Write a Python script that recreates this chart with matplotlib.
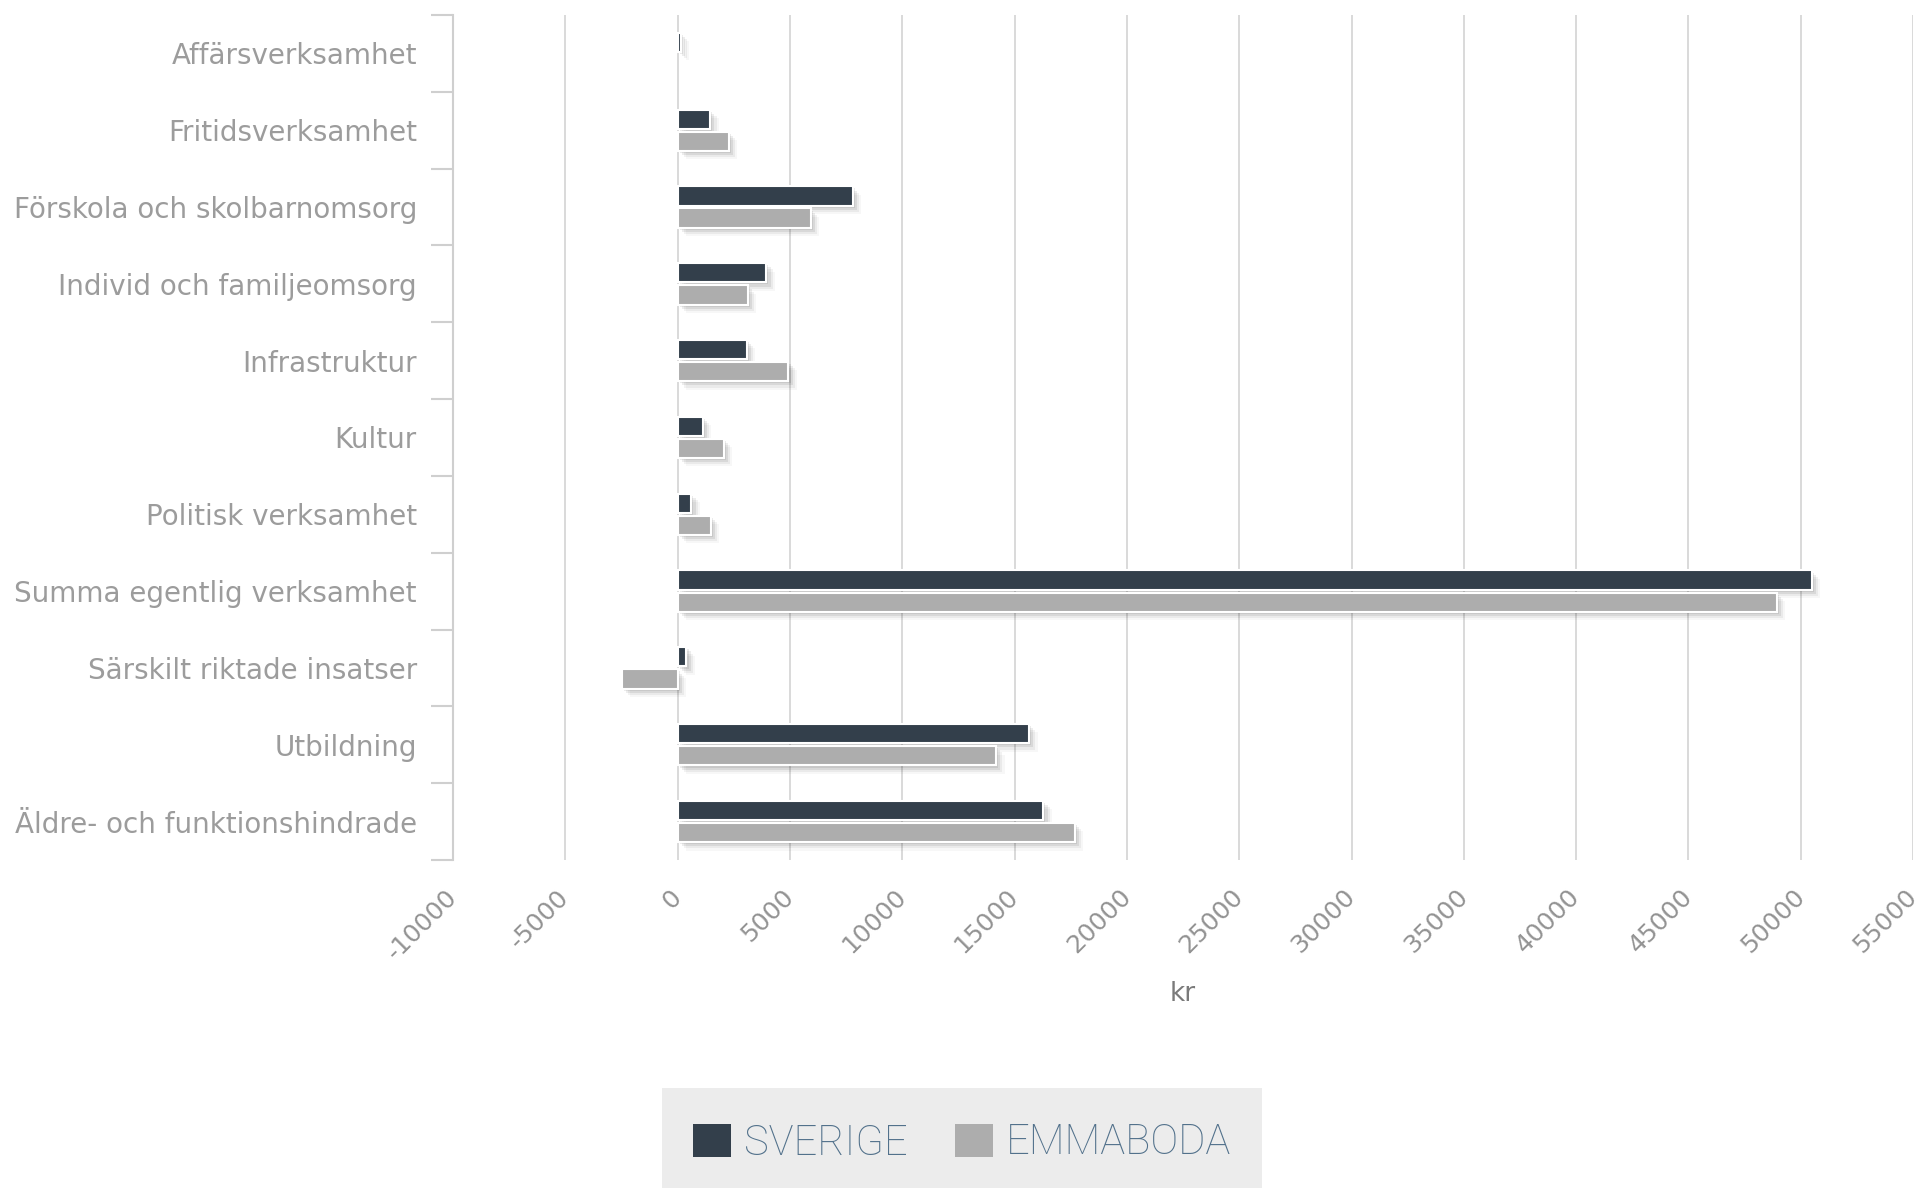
import matplotlib
matplotlib.use("Agg")
import matplotlib.pyplot as plt
import matplotlib.patheffects as pe
from matplotlib.patches import Patch, Rectangle
import numpy as np

# categories and values (kr per invånare)
categories = [
    "Affärsverksamhet",
    "Fritidsverksamhet",
    "Förskola och skolbarnomsorg",
    "Individ och familjeomsorg",
    "Infrastruktur",
    "Kultur",
    "Politisk verksamhet",
    "Summa egentlig verksamhet",
    "Särskilt riktade insatser",
    "Utbildning",
    "Äldre- och funktionshindrade",
]
sverige = [150, 1450, 7800, 3950, 3080, 1130, 610, 50500, 390, 15650, 16280]
emmaboda = [0, 2270, 5920, 3110, 4930, 2040, 1470, 48950, -2500, 14180, 17680]
series_names = ["SVERIGE", "EMMABODA"]
series_colors = ["#333f4b", "#adadad"]
xticks = list(range(-10000, 55001, 5000))

W, H = 1919, 1188
fig = plt.figure(figsize=(W / 100, H / 100), dpi=100)
ax = fig.add_axes([0.2361, 0.2761, 0.7608, 0.7113])

shadow = [
    pe.SimplePatchShadow(offset=(1.5, -1.5), shadow_rgbFace="k", alpha=0.08),
    pe.SimplePatchShadow(offset=(3, -3), shadow_rgbFace="k", alpha=0.07),
    pe.SimplePatchShadow(offset=(4.5, -4.5), shadow_rgbFace="k", alpha=0.05),
    pe.SimplePatchShadow(offset=(6, -6), shadow_rgbFace="k", alpha=0.03),
    pe.Normal(),
]

y = np.arange(len(categories))
h = 0.25
off = 0.144
for vals, col, dy in [(sverige, series_colors[0], -off), (emmaboda, series_colors[1], off)]:
    bars = ax.barh(y + dy, vals, height=h, color=col, edgecolor="white",
                   linewidth=1.5, zorder=3)
    for b in bars:
        if b.get_width() != 0:
            b.set_path_effects(shadow)
        else:
            b.set_visible(False)

ax.set_xlim(-10000, 55000)
ax.set_ylim(len(categories) - 0.5, -0.5)
ax.set_xticks(xticks)
ax.set_xticklabels([str(t) for t in xticks], rotation=45, ha="right",
                   va="center", rotation_mode="anchor")
ax.tick_params(axis="x", length=0, pad=24, labelsize=18, labelcolor="#939393")

ax.set_yticks(y)
ax.set_yticklabels(categories)
ax.set_yticks(np.arange(-0.5, len(categories)), minor=True)
ax.tick_params(axis="y", which="major", length=0, pad=26, labelsize=20,
               labelcolor="#9c9c9c")
ax.tick_params(axis="y", which="minor", length=16, width=1.5, color="#cfcfcf")

ax.grid(axis="x", color="#d3d3d3", linewidth=1.2, zorder=0)
ax.set_axisbelow(True)
for s in ["top", "right", "bottom"]:
    ax.spines[s].set_visible(False)
ax.spines["left"].set_color("#cfcfcf")
ax.spines["left"].set_linewidth(1.5)

ax.set_xlabel("kr", fontsize=19, color="#7a7a7a")
ax.xaxis.set_label_coords(0.5, -0.1586)
ax.xaxis.label.set_va("center")

# legend background box
fig.patches.append(Rectangle((662 / W, 0), 600 / W, 1 - 1088 / H,
                             transform=fig.transFigure, facecolor="#ececec",
                             edgecolor="none", zorder=0))
handles = [Patch(facecolor=c, edgecolor="none") for c in series_colors]
leg = fig.legend(handles, series_names, loc="center",
                 bbox_to_anchor=(962 / W, 1 - 1143 / H), ncol=2,
                 frameon=False, borderpad=0, borderaxespad=0,
                 handlelength=0.91, handleheight=0.84, handletextpad=0.31,
                 columnspacing=1.13,
                 prop={"family": ["Roboto", "DejaVu Sans"], "weight": "light", "size": 30})
for t in leg.get_texts():
    t.set_color("#52718b")

fig.savefig("out.png", dpi=100)
